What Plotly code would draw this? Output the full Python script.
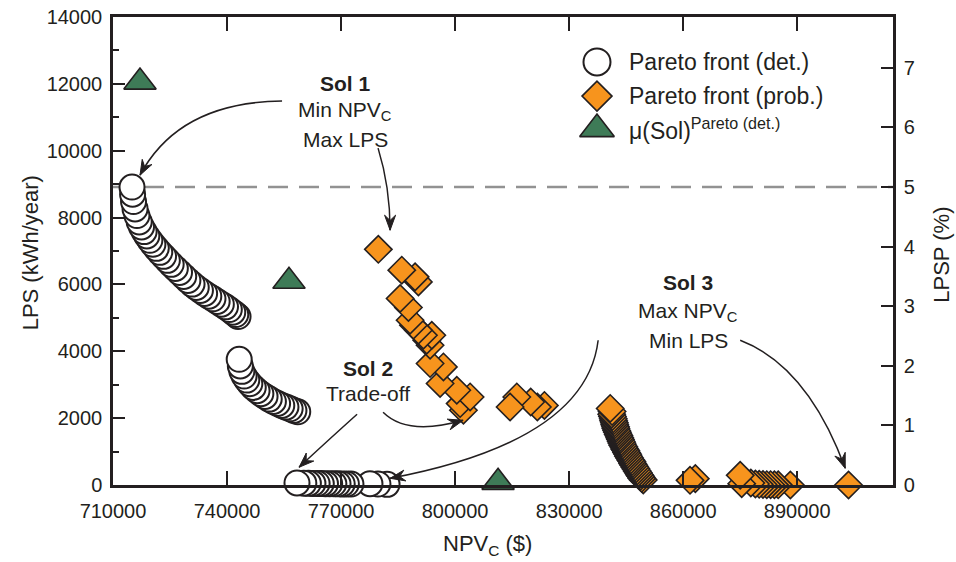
import math
import plotly.graph_objects as go

# ---------------- data ----------------
det_npv = [715000, 715150, 715400, 715800, 716300, 716900, 717500, 718200, 718900, 719700,
           720500, 721400, 722300, 723300, 724300, 725300, 726400, 727500, 728600, 729700,
           730800, 731900, 733000, 734100, 735200, 736300, 737400, 738500, 739600, 740600,
           741500, 742300, 742900,
           743200, 743500, 743900, 744500, 745200, 746000, 746900, 747900, 748900, 750000,
           751100, 752200, 753300, 754400, 755500, 756600, 757600, 758600,
           758400, 760200, 761400, 762600, 763700, 764800, 765900, 767000, 768100, 769200,
           770300, 771400, 772600, 777600, 779700, 782100]
det_lps = [8914, 8700, 8480, 8260, 8060, 7870, 7720, 7580, 7450, 7320,
           7200, 7080, 6960, 6840, 6720, 6600, 6480, 6360, 6240, 6120,
           6010, 5910, 5820, 5730, 5650, 5570, 5490, 5410, 5330, 5250,
           5170, 5100, 5040,
           3760, 3560, 3400, 3260, 3140, 3030, 2920, 2820, 2730, 2650,
           2570, 2500, 2440, 2380, 2330, 2280, 2230, 2190,
           60, 55, 50, 48, 45, 42, 40, 38, 36, 34,
           32, 30, 28, 40, 30, 20]

prob_npv = [779800, 785970, 789470, 790350, 785530, 787720, 788160, 789040, 790350, 791670,
            793870, 792540, 793420, 793420, 796930, 796050, 800440, 803950, 801320, 802190,
            814470, 816230, 819890, 821640, 823500,
            840800, 841300, 841200, 841400, 841600, 841700, 841900, 842000, 842200, 842300,
            842500, 842700, 842900, 843100, 843300, 843500, 843700, 843900, 844100, 844400,
            844600, 844900, 845100, 845400, 845600, 845900, 846200, 846500, 846700, 847000,
            847300, 847600, 847900, 848200, 848500, 848800, 849100, 849500,
            861800, 863200,
            875000, 875400, 877800, 879000, 880000, 881000, 882000, 883000, 884000, 885000,
            888200, 903500]
prob_lps = [7050, 6426, 6226, 6076, 5579, 5310, 4930, 4780, 4630, 4480,
            4480, 4330, 4180, 3633, 3532, 3035, 2834, 2634, 2436, 2236,
            2334, 2634, 2484, 2334, 2380,
            2290, 2200, 2120, 2050, 1980, 1920, 1860, 1800, 1740, 1690,
            1630, 1580, 1520, 1470, 1410, 1360, 1300, 1250, 1190, 1140,
            1080, 1030, 970, 920, 860, 810, 750, 700, 640, 590,
            530, 480, 420, 370, 310, 260, 200, 150,
            140, 190,
            290, 40, 60, 30, 20, 15, 10, 10, 5, 5,
            0, 0]

mu_npv = [717100, 756300, 811300]
mu_lps = [12053, 6097, 80]

x_ticks = [710000, 740000, 770000, 800000, 830000, 860000, 890000]
y_ticks = [0, 2000, 4000, 6000, 8000, 10000, 12000, 14000]
y2_ticks = [0, 1, 2, 3, 4, 5, 6, 7]
lpsp_limit = 5

legend_labels = ["Pareto front (det.)", "Pareto front (prob.)", "\u03bc(Sol)<sup>Pareto (det.)</sup>"]

# ---------------- style ----------------
INK = "#231f20"
ORANGE = "#f7941d"
GREEN = "#3e7b57"
FONT = "Liberation Sans, Arial, sans-serif"

W, H = 956, 562
ML, MR, MT, MB = 113, 63, 17, 77
X_RANGE = [710000, 915200]
Y_RANGE = [0, 14000]
PW, PH = W - ML - MR, H - MT - MB
XPX = (X_RANGE[1] - X_RANGE[0]) / PW   # data units per pixel
YPX = (Y_RANGE[1] - Y_RANGE[0]) / PH

fig = go.Figure()

fig.add_trace(go.Scatter(
    x=det_npv[::-1], y=det_lps[::-1], mode="markers", cliponaxis=False,
    marker=dict(symbol="circle", size=25, color="white", line=dict(color=INK, width=2)),
    showlegend=False))
fig.add_trace(go.Scatter(
    x=prob_npv[::-1], y=prob_lps[::-1], mode="markers", cliponaxis=False,
    marker=dict(symbol="diamond", size=21, color=ORANGE, line=dict(color=INK, width=1.6)),
    showlegend=False))
fig.add_trace(go.Scatter(
    x=mu_npv, y=mu_lps, mode="markers", cliponaxis=False,
    marker=dict(symbol="triangle-up", size=28, color=GREEN, line=dict(color=INK, width=1.6)),
    showlegend=False))

# invisible trace to activate the secondary axis
fig.add_trace(go.Scatter(x=[x_ticks[0]], y=[0], yaxis="y2", mode="markers",
                         marker=dict(opacity=0), showlegend=False, hoverinfo="skip"))

# custom legend on an overlay axis
leg_y = [0.904, 0.831, 0.7605]
leg_styles = [
    dict(symbol="circle", size=27, color="white", line=dict(color=INK, width=2)),
    dict(symbol="diamond", size=23, color=ORANGE, line=dict(color=INK, width=1.6)),
    dict(symbol="triangle-up", size=30, color=GREEN, line=dict(color=INK, width=1.6)),
]
for yy, st in zip(leg_y, leg_styles):
    fig.add_trace(go.Scatter(x=[0.6205], y=[yy], xaxis="x3", yaxis="y3", mode="markers",
                             marker=st, showlegend=False, hoverinfo="skip", cliponaxis=False))

annotations = []
for yy, lab in zip(leg_y, legend_labels):
    annotations.append(dict(x=0.659, y=yy, xref="paper", yref="paper", text=lab,
                            showarrow=False, xanchor="left", yanchor="middle",
                            font=dict(family=FONT, size=23, color=INK)))

# Sol labels
def label(x, y, text, bold=False):
    annotations.append(dict(x=x, y=y, xref="x", yref="y",
                            text=("<b>%s</b>" % text) if bold else text,
                            showarrow=False, xanchor="center", yanchor="middle",
                            font=dict(family=FONT, size=21, color=INK)))

label(771053, 12023, "Sol 1", True)
label(771053, 11190, "Min NPV<sub>C</sub>")
label(771053, 10347, "Max LPS")
label(777105, 3493, "Sol 2", True)
label(777105, 2745, "Trade-off")
label(861316, 6067, "Sol 3", True)
label(861316, 5175, "Max NPV<sub>C</sub>")
label(861316, 4331, "Min LPS")

# curved arrows: (start, control, end) in data units
arrows = [
    ((754474, 11484), (727368, 11454), (717105, 9269)),
    ((779737, 10077), (782895, 8910), (782895, 7623)),
    ((774211, 2116), (765000, 1173), (758947, 530)),
    ((781053, 2176), (787369, 1458), (802106, 1936)),
    ((837632, 4331), (834474, 1308), (782895, 200)),
    ((875000, 4331), (892763, 3553), (902632, 500)),
]
shapes = []
HEAD_L, HEAD_W = 15.0, 5.5
for (p0, c, p2) in arrows:
    shapes.append(dict(type="path", xref="x", yref="y",
                       path="M %f,%f Q %f,%f %f,%f" % (p0[0], p0[1], c[0], c[1], p2[0], p2[1]),
                       line=dict(color=INK, width=1.5)))
    # arrowhead, built in screen pixels along the end tangent, then mapped to data
    dx = (p2[0] - c[0]) / XPX
    dy = -(p2[1] - c[1]) / YPX
    n = math.hypot(dx, dy)
    ux, uy = dx / n, dy / n
    px_, py_ = -uy, ux
    pts_px = [(0, 0),
              (-HEAD_L * ux + HEAD_W * px_, -HEAD_L * uy + HEAD_W * py_),
              (-0.65 * HEAD_L * ux, -0.65 * HEAD_L * uy),
              (-HEAD_L * ux - HEAD_W * px_, -HEAD_L * uy - HEAD_W * py_)]
    pts = [(p2[0] + a * XPX, p2[1] - b * YPX) for a, b in pts_px]
    path = "M " + " L ".join("%f,%f" % p for p in pts) + " Z"
    shapes.append(dict(type="path", xref="x", yref="y", path=path,
                       fillcolor=INK, line=dict(color=INK, width=1)))

# 5% LPSP line
shapes.append(dict(type="line", xref="paper", yref="y2", x0=0, x1=1, y0=lpsp_limit, y1=lpsp_limit,
                   line=dict(color="#929292", width=2.5, dash="20px,11px"), layer="below"))

# axis titles
annotations.append(dict(x=-0.1064, y=0.495, xref="paper", yref="paper", text="LPS (kWh/year)",
                        textangle=-90, showarrow=False, xanchor="center", yanchor="middle",
                        font=dict(family=FONT, size=22, color=INK)))
annotations.append(dict(x=0.4795, y=-0.129, xref="paper", yref="paper", text="NPV<sub>C</sub> ($)",
                        showarrow=False, xanchor="center", yanchor="middle",
                        font=dict(family=FONT, size=22, color=INK)))
annotations.append(dict(x=1.0628, y=0.492, xref="paper", yref="paper", text="LPSP (%)",
                        textangle=-90, showarrow=False, xanchor="center", yanchor="middle",
                        font=dict(family=FONT, size=22, color=INK)))

axis_common = dict(showline=True, linecolor=INK, linewidth=2.5, showgrid=False, zeroline=False,
                   ticks="inside", tickcolor=INK, tickwidth=2, automargin=False,
                   tickfont=dict(family=FONT, size=20, color=INK))

fig.update_layout(
    width=W, height=H,
    margin=dict(l=ML, r=MR, t=MT, b=MB, autoexpand=False),
    paper_bgcolor="white", plot_bgcolor="white",
    showlegend=False,
    xaxis=dict(range=X_RANGE, tickvals=x_ticks, ticktext=[str(v) for v in x_ticks],
               ticklen=14, mirror="ticks", ticklabelstandoff=6, **axis_common),
    yaxis=dict(range=Y_RANGE, tickvals=y_ticks, ticktext=[str(v) for v in y_ticks], ticklen=12,
               minor=dict(ticks="inside", ticklen=6, dtick=1000, tickcolor=INK, tickwidth=2),
               ticklabelstandoff=4, **axis_common),
    yaxis2=dict(range=[0, 7.853], tickvals=y2_ticks, ticktext=[str(v) for v in y2_ticks],
                ticklen=12, overlaying="y", side="right", ticklabelstandoff=4, **axis_common),
    xaxis3=dict(range=[0, 1], overlaying="x", visible=False, fixedrange=True),
    yaxis3=dict(range=[0, 1], overlaying="y", visible=False, fixedrange=True),
    annotations=annotations,
    shapes=shapes,
)

fig.write_html("out.html")
